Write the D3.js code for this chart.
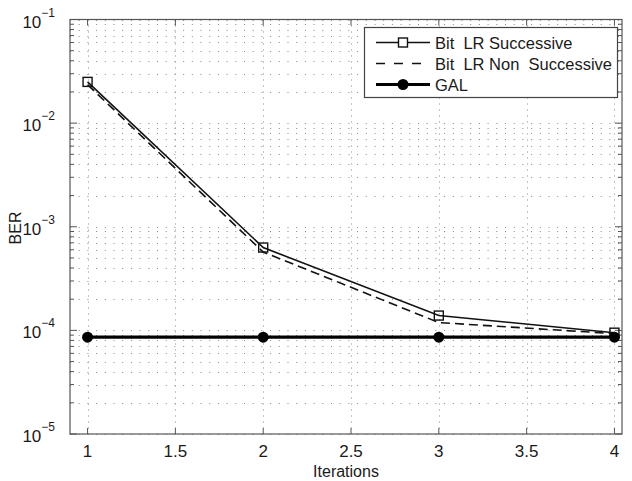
<!DOCTYPE html>
<html>
<head>
<meta charset="utf-8">
<script src="https://cdn.jsdelivr.net/npm/d3@7"></script>
<style>
  body { margin: 0; background: #fff; }
  text { font-family: "Liberation Sans", Arial, sans-serif; fill: #1a1a1a; }
</style>
</head>
<body>
<svg width="632" height="481"></svg>
<script>
const iterations = [1, 2, 3, 4];
const berSuccessive = [2.5e-2, 6.3e-4, 1.39e-4, 9.5e-5];
const berNonSuccessive = [2.35e-2, 5.7e-4, 1.19e-4, 9.3e-5];
const berGal = [8.6e-5, 8.6e-5, 8.6e-5, 8.6e-5];
const xTicks = [1, 1.5, 2, 2.5, 3, 3.5, 4];
const yExponents = [-5, -4, -3, -2, -1];
const legendLabels = ["Bit  LR Successive", "Bit  LR Non  Successive", "GAL"];

window.onload = main;

function main() {
  const svg = d3.select("svg");
  const left = 70, right = 622, top = 19.5, bottom = 434;

  const x = d3.scaleLinear().domain([0.9, 4.043]).range([left, right]);
  const y = d3.scaleLog().domain([1e-5, 1e-1]).range([bottom, top]);

  const minorVals = [];
  yExponents.slice(0, -1).forEach((e) => {
    for (let k = 2; k <= 9; k++) minorVals.push(k * Math.pow(10, e));
  });
  const majorVals = yExponents.map((e) => Math.pow(10, e));

  const grid = svg.append("g").attr("stroke", "#8a8a8a").attr("stroke-width", 1);

  // horizontal grid, major + minor
  grid
    .selectAll(".hgrid")
    .data(majorVals.concat(minorVals))
    .enter()
    .append("line")
    .attr("x1", left)
    .attr("x2", right)
    .attr("y1", (d) => Math.round(y(d)) + 0.5)
    .attr("y2", (d) => Math.round(y(d)) + 0.5)
    .attr("stroke-dasharray", "1,7.7");

  // vertical grid
  grid
    .selectAll(".vgrid")
    .data(xTicks)
    .enter()
    .append("line")
    .attr("x1", (d) => Math.round(x(d)) + 0.5)
    .attr("x2", (d) => Math.round(x(d)) + 0.5)
    .attr("y1", top)
    .attr("y2", bottom)
    .attr("stroke-dasharray", "1,5");

  // frame
  svg
    .append("rect")
    .attr("x", left)
    .attr("y", top)
    .attr("width", right - left)
    .attr("height", bottom - top)
    .attr("fill", "none")
    .attr("stroke", "#555")
    .attr("stroke-width", 1.2);

  const ticks = svg.append("g").attr("stroke", "#555").attr("stroke-width", 1);

  // y ticks on both sides
  majorVals.forEach((v) => {
    const yy = y(v);
    ticks.append("line").attr("x1", left).attr("x2", left + 7).attr("y1", yy).attr("y2", yy);
    ticks.append("line").attr("x1", right).attr("x2", right - 7).attr("y1", yy).attr("y2", yy);
  });
  minorVals.forEach((v) => {
    const yy = y(v);
    ticks.append("line").attr("x1", left).attr("x2", left + 4).attr("y1", yy).attr("y2", yy);
    ticks.append("line").attr("x1", right).attr("x2", right - 4).attr("y1", yy).attr("y2", yy);
  });
  xTicks.forEach((v) => {
    const xx = x(v);
    ticks.append("line").attr("x1", xx).attr("x2", xx).attr("y1", bottom).attr("y2", bottom - 6);
    ticks.append("line").attr("x1", xx).attr("x2", xx).attr("y1", top).attr("y2", top + 6);
  });

  // y tick labels
  const yl = svg
    .selectAll(".ylab")
    .data(yExponents)
    .enter()
    .append("text")
    .attr("x", 55)
    .attr("y", (d) => y(Math.pow(10, d)) + 8)
    .attr("text-anchor", "end")
    .style("font-size", "17px");
  yl.text("10");
  yl.append("tspan")
    .attr("dy", -11)
    .style("font-size", "12px")
    .text((d) => "\u2212" + Math.abs(d));

  // x tick labels
  svg
    .selectAll(".xlab")
    .data(xTicks)
    .enter()
    .append("text")
    .attr("x", (d) => x(d))
    .attr("y", 457)
    .attr("text-anchor", "middle")
    .style("font-size", "17px")
    .text((d) => d);

  svg
    .append("text")
    .attr("x", (left + right) / 2)
    .attr("y", 477)
    .attr("text-anchor", "middle")
    .style("font-size", "16px")
    .text("Iterations");

  svg
    .append("text")
    .attr("transform", "translate(21,228) rotate(-90)")
    .attr("text-anchor", "middle")
    .style("font-size", "16px")
    .text("BER");

  const line = d3
    .line()
    .x((d, i) => x(iterations[i]))
    .y((d) => y(d));

  svg
    .append("path")
    .attr("d", line(berNonSuccessive))
    .attr("fill", "none")
    .attr("stroke", "#111")
    .attr("stroke-width", 1.6)
    .attr("stroke-dasharray", "9,5");

  svg
    .append("path")
    .attr("d", line(berSuccessive))
    .attr("fill", "none")
    .attr("stroke", "#111")
    .attr("stroke-width", 1.6);

  svg
    .selectAll(".sq")
    .data(berSuccessive)
    .enter()
    .append("rect")
    .attr("x", (d, i) => x(iterations[i]) - 4.5)
    .attr("y", (d) => y(d) - 4.5)
    .attr("width", 9)
    .attr("height", 9)
    .attr("fill", "none")
    .attr("stroke", "#111")
    .attr("stroke-width", 1.4);

  svg
    .append("path")
    .attr("d", line(berGal))
    .attr("fill", "none")
    .attr("stroke", "#000")
    .attr("stroke-width", 3.2);

  svg
    .selectAll(".dot")
    .data(berGal)
    .enter()
    .append("circle")
    .attr("cx", (d, i) => x(iterations[i]))
    .attr("cy", (d) => y(d))
    .attr("r", 5.5)
    .attr("fill", "#000");

  // legend
  const lg = svg.append("g");
  lg.append("rect")
    .attr("x", 364.5)
    .attr("y", 27.5)
    .attr("width", 253)
    .attr("height", 70)
    .attr("fill", "#fff")
    .attr("stroke", "#444")
    .attr("stroke-width", 1.2);

  const rowY = [42.5, 63.5, 84.5];
  const lx1 = 376, lx2 = 430, lm = 403;

  lg.append("line").attr("x1", lx1).attr("x2", lx2).attr("y1", rowY[0]).attr("y2", rowY[0])
    .attr("stroke", "#111").attr("stroke-width", 1.6);
  lg.append("rect").attr("x", lm - 4.5).attr("y", rowY[0] - 4.5).attr("width", 9).attr("height", 9)
    .attr("fill", "#fff").attr("stroke", "#111").attr("stroke-width", 1.4);

  lg.append("line").attr("x1", lx1).attr("x2", lx2).attr("y1", rowY[1]).attr("y2", rowY[1])
    .attr("stroke", "#111").attr("stroke-width", 1.6).attr("stroke-dasharray", "9,9");

  lg.append("line").attr("x1", lx1).attr("x2", lx2).attr("y1", rowY[2]).attr("y2", rowY[2])
    .attr("stroke", "#000").attr("stroke-width", 3.2);
  lg.append("circle").attr("cx", lm).attr("cy", rowY[2]).attr("r", 5.5).attr("fill", "#000");

  lg.selectAll(".ltxt")
    .data(legendLabels)
    .enter()
    .append("text")
    .attr("x", 435)
    .attr("y", (d, i) => rowY[i] + 6)
    .style("font-size", "16.5px")
    .style("white-space", "pre")
    .text((d) => d);
}
</script>
</body>
</html>
